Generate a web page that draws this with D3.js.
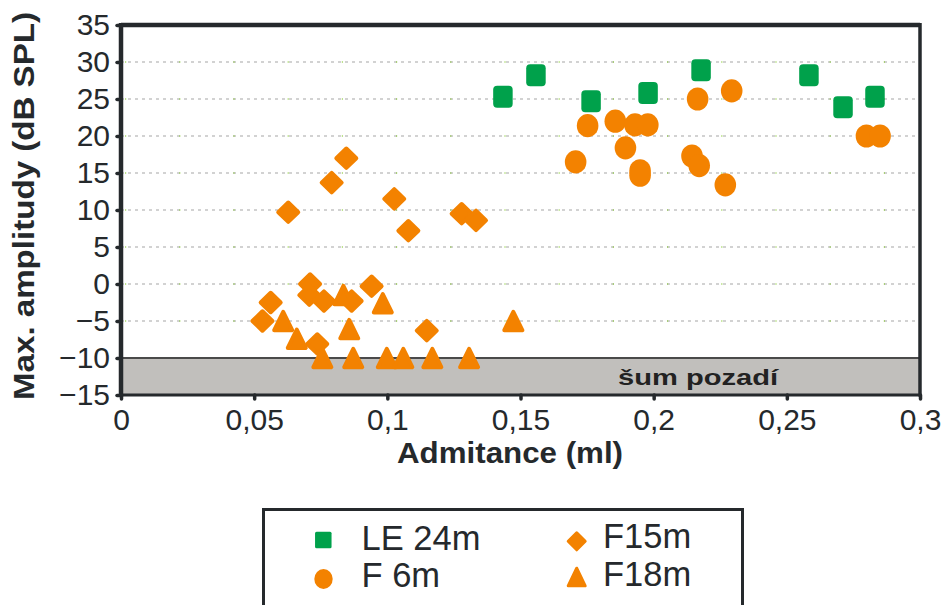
<!DOCTYPE html>
<html><head><meta charset="utf-8">
<script src="https://cdn.jsdelivr.net/npm/d3@7"></script>
<style>
html,body{margin:0;padding:0;background:#fff;}
svg{display:block;font-family:"Liberation Sans",Arial,sans-serif;}
</style></head>
<body>
<svg id="chart" width="941" height="605"></svg>
<script>
// ---- data ----
const leX  = [0.1434, 0.1558, 0.1765, 0.1979, 0.2178, 0.2583, 0.2711, 0.2831];
const leY  = [25.3, 28.2, 24.7, 25.8, 28.9, 28.2, 23.9, 25.3];
const f6X  = [0.1707, 0.1752, 0.1856, 0.1894, 0.1930, 0.1978, 0.1949, 0.1949, 0.2165, 0.2293, 0.2144, 0.2171, 0.2269, 0.2799, 0.2850];
const f6Y  = [16.5, 21.4, 22.0, 18.4, 21.5, 21.5, 15.3, 14.7, 25.0, 26.1, 17.3, 16.0, 13.4, 20.0, 20.0];
const f15X = [0.0846, 0.0791, 0.1026, 0.0628, 0.1279, 0.1333, 0.1079, 0.0710, 0.0707, 0.0762, 0.0562, 0.0531, 0.0866, 0.0941, 0.0737, 0.1148];
const f15Y = [17.0, 13.7, 11.5, 9.7, 9.5, 8.6, 7.2, 0.0, -1.5, -2.3, -2.5, -5.0, -2.3, -0.3, -8.1, -6.3];
const f18X = [0.0609, 0.0660, 0.0756, 0.0835, 0.0857, 0.0872, 0.0983, 0.0998, 0.1060, 0.1169, 0.1307, 0.1473];
const f18Y = [-5.0, -7.4, -10.0, -1.5, -6.1, -10.0, -2.6, -10.0, -10.0, -10.0, -10.0, -5.0];
const xTicks = [0, 0.05, 0.1, 0.15, 0.2, 0.25, 0.3];
const xTickLabels = ["0", "0,05", "0,1", "0,15", "0,2", "0,25", "0,3"];
const yTicks = [-15, -10, -5, 0, 5, 10, 15, 20, 25, 30, 35];
const gridValues = [-5, 0, 5, 10, 15, 20, 25, 30];
const noiseRange = [-15, -10];
const seriesNames = ["LE 24m", "F 6m", "F15m", "F18m"];
const noiseLabel = "šum pozadí";
const xTitle = "Admitance (ml)";
const yTitle = "Max. amplitudy (dB SPL)";

// ---- setup ----
const svg = d3.select("#chart");
const GREEN = "#00a14b", ORANGE = "#f38200", DARK = "#25292c";
const x = d3.scaleLinear().domain([0, 0.3]).range([121, 920]);
const y = d3.scaleLinear().domain([-15, 35]).range([395, 25]);

// grid
const grid = svg.append("g");
gridValues.forEach(v => {
  grid.append("line").attr("x1", x(0)).attr("x2", x(0.3)).attr("y1", y(v)).attr("y2", y(v))
    .attr("stroke", "#c4c4c4").attr("stroke-width", 1.6).attr("stroke-dasharray", "3,4");
  grid.append("line").attr("x1", x(0) + 4).attr("x2", x(0.3)).attr("y1", y(v)).attr("y2", y(v))
    .attr("stroke", "#7cc520").attr("stroke-width", 1.2).attr("stroke-dasharray", "1.2,53");
});

// noise band
svg.append("rect").attr("x", x(0)).attr("y", y(noiseRange[1]))
  .attr("width", x(0.3) - x(0)).attr("height", y(noiseRange[0]) - y(noiseRange[1]))
  .attr("fill", "#c1bfbc");
svg.append("line").attr("x1", x(0)).attr("x2", x(0.3)).attr("y1", y(noiseRange[1])).attr("y2", y(noiseRange[1]))
  .attr("stroke", "#4a4a4a").attr("stroke-width", 2);
svg.append("text").attr("x", 698).attr("y", 385).attr("text-anchor", "middle")
  .attr("font-size", 22).attr("font-weight", "bold").attr("fill", "#222")
  .attr("textLength", 160).attr("lengthAdjust", "spacingAndGlyphs").text(noiseLabel);

// axes
const yAxis = d3.axisLeft(y).tickValues(yTicks).tickSize(4).tickPadding(7);
const gy = svg.append("g").attr("transform", `translate(${x(0)},0)`).call(yAxis);
const xAxis = d3.axisBottom(x).tickValues(xTicks).tickSize(4).tickPadding(10)
  .tickFormat((d, i) => xTickLabels[i]);
const gx = svg.append("g").attr("transform", `translate(0,${y(-15)})`).call(xAxis);
[gx, gy].forEach(g => {
  g.select(".domain").remove();
  g.selectAll(".tick line").attr("stroke", DARK).attr("stroke-width", 3.5).attr("stroke-linecap", "round");
  g.selectAll(".tick text").attr("font-size", 30).attr("fill", DARK)
    .attr("font-family", "'Liberation Sans',Arial,sans-serif");
});

// frame
svg.append("line").attr("x1", x(0)).attr("x2", x(0.3)).attr("y1", y(35)).attr("y2", y(35)).attr("stroke", DARK).attr("stroke-width", 4.5);
svg.append("line").attr("x1", x(0)).attr("x2", x(0)).attr("y1", y(35) - 2).attr("y2", y(-15) + 1.5).attr("stroke", DARK).attr("stroke-width", 4.5);
svg.append("line").attr("x1", x(0.3)).attr("x2", x(0.3)).attr("y1", y(35) - 2).attr("y2", y(-15) + 1.5).attr("stroke", DARK).attr("stroke-width", 3.5);
svg.append("line").attr("x1", x(0)).attr("x2", x(0.3)).attr("y1", y(-15)).attr("y2", y(-15)).attr("stroke", DARK).attr("stroke-width", 3);

// titles
svg.append("text").attr("x", 510).attr("y", 463).attr("text-anchor", "middle")
  .attr("font-size", 30).attr("font-weight", "bold").attr("fill", DARK)
  .attr("textLength", 226).attr("lengthAdjust", "spacingAndGlyphs").text(xTitle);
svg.append("text").attr("transform", "translate(34,206) rotate(-90)").attr("text-anchor", "middle")
  .attr("font-size", 30).attr("font-weight", "bold").attr("fill", DARK)
  .attr("textLength", 388).attr("lengthAdjust", "spacingAndGlyphs").text(yTitle);

// marker helpers
function diamondPath(hw, hh) { return `M0,${-hh}L${hw},0L0,${hh}L${-hw},0Z`; }
function trianglePath(hw, hh) { return `M0,${-hh}L${hw},${hh}L${-hw},${hh}Z`; }
function drawSquare(g, cx, cy, w, h, r) {
  g.append("rect").attr("x", cx - w / 2).attr("y", cy - h / 2).attr("width", w).attr("height", h)
    .attr("rx", r).attr("ry", r).attr("fill", GREEN);
}
function drawCircle(g, cx, cy, rx, ry) {
  g.append("ellipse").attr("cx", cx).attr("cy", cy).attr("rx", rx).attr("ry", ry).attr("fill", ORANGE);
}
function drawPath(g, cx, cy, d, sw) {
  g.append("path").attr("transform", `translate(${cx},${cy})`).attr("d", d)
    .attr("fill", ORANGE).attr("stroke", ORANGE).attr("stroke-width", sw).attr("stroke-linejoin", "round");
}

// points
const pts = svg.append("g");
leX.forEach((v, i) => drawSquare(pts, x(v), y(leY[i]), 19.5, 22, 4));
f6X.forEach((v, i) => drawCircle(pts, x(v), y(f6Y[i]), 10.8, 11.6));
f15X.forEach((v, i) => drawPath(pts, x(v), y(f15Y[i]), diamondPath(10, 9.7), 4));
f18X.forEach((v, i) => drawPath(pts, x(v), y(f18Y[i]), trianglePath(9, 9.2), 4));

// legend
const lg = svg.append("g");
lg.append("rect").attr("x", 263.5).attr("y", 509.5).attr("width", 479).attr("height", 120)
  .attr("fill", "#fff").attr("stroke", DARK).attr("stroke-width", 3);
drawSquare(lg, 323.3, 540, 16.5, 16.5, 1.5);
drawCircle(lg, 323.5, 579, 9.2, 10);
drawPath(lg, 576.7, 541.3, diamondPath(8.5, 8.5), 3);
drawPath(lg, 576.7, 577, trianglePath(8.5, 8.8), 3);
const legendText = [[361.5, 550, seriesNames[0]], [361.5, 586.5, seriesNames[1]], [603, 547.5, seriesNames[2]], [603, 586, seriesNames[3]]];
legendText.forEach(t => {
  lg.append("text").attr("x", t[0]).attr("y", t[1]).attr("font-size", 34.5).attr("fill", DARK).text(t[2]);
});
</script>
</body></html>
